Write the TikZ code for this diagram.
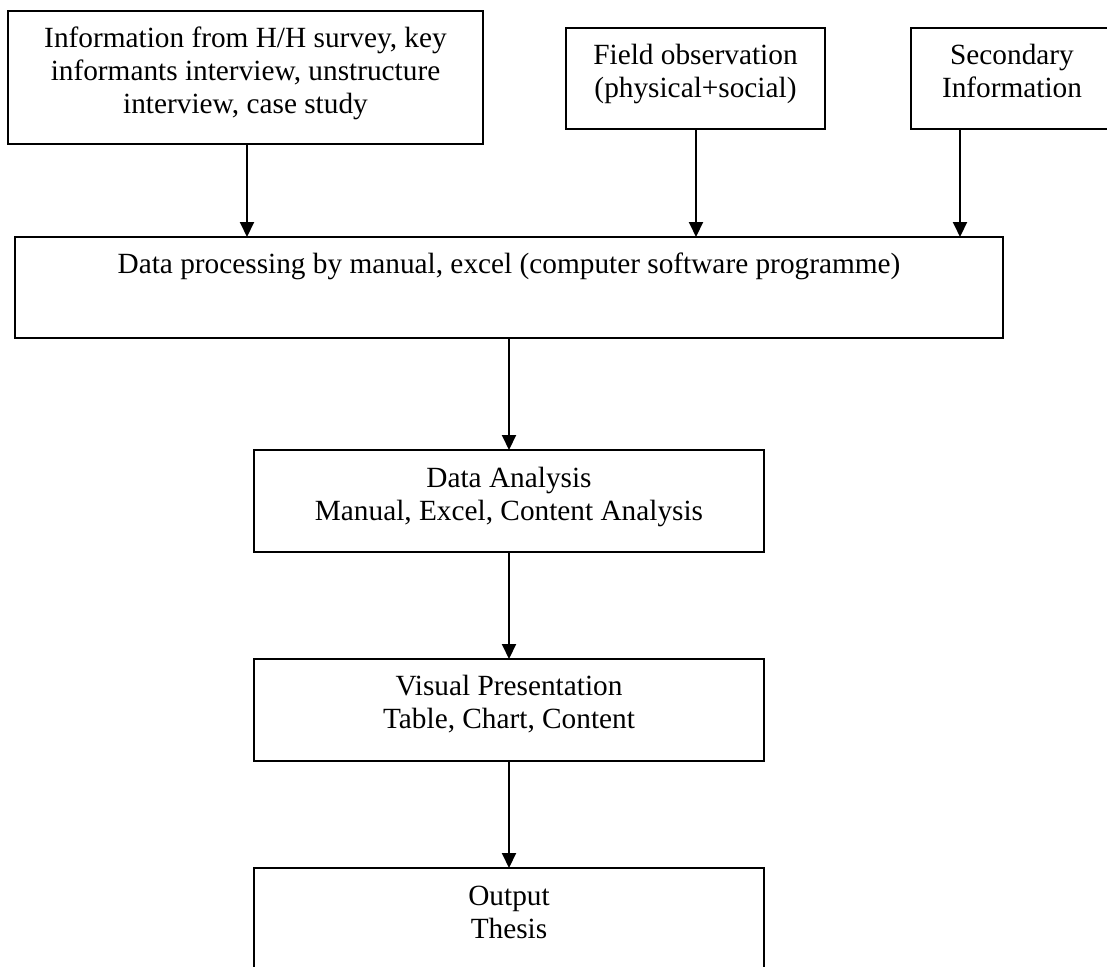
\documentclass[tikz,border=0pt]{standalone}
\usepackage{fontspec}
\setmainfont{Liberation Serif}
\usetikzlibrary{arrows.meta}
\begin{document}
\begin{tikzpicture}[x=1pt,y=-1pt,
  box/.style={draw, line width=2pt, rectangle, inner sep=0pt, outer sep=0pt, anchor=north west},
  txt/.style={anchor=north, inner sep=0pt, align=center, font=\fontsize{29.3}{33}\selectfont},
  arr/.style={line width=2pt, -{Triangle[length=15pt,width=14pt]}}]
\useasboundingbox (0,0) rectangle (1107,966);
\clip (0,0) rectangle (1107,966);
% boxes
\node[box, minimum width=475pt, minimum height=133pt] (b1) at (8,11) {};
\node[box, minimum width=259pt, minimum height=101pt] (b2) at (566,28) {};
\node[box, minimum width=210pt, minimum height=101pt] (b3) at (911,28) {};
\node[box, minimum width=988pt, minimum height=101pt] (b5) at (15,237) {};
\node[box, minimum width=510pt, minimum height=102pt] (b6) at (254,450) {};
\node[box, minimum width=510pt, minimum height=102pt] (b7) at (254,659) {};
\node[box, minimum width=510pt, minimum height=150pt] (b8) at (254,868) {};
% texts
\node[txt] (t1) at (245.5,23.9) {\strut Information from H/H survey, key\\informants interview, unstructure\\interview, case study};
\node[txt] (t2) at (695.5,40.9) {\strut Field observation\\(physical+social)};
\node[txt] (t3) at (1012,40.9) {\strut Secondary\\Information};
\node[txt] (t5) at (509,249.9) {\strut Data processing by manual, excel (computer software programme)};
\node[txt] (t6) at (509,463.9) {\strut Data Analysis\\Manual, Excel, Content Analysis};
\node[txt] (t7) at (509,671.9) {\strut Visual Presentation\\Table, Chart, Content};
\node[txt] (t8) at (509,881.9) {\strut Output\\Thesis};
% arrows
\draw[arr] ([xshift=1.5pt]b1.south) -- ([xshift=1.5pt]b1.south |- b5.north);
\draw[arr] ([xshift=0.5pt]b2.south) -- ([xshift=0.5pt]b2.south |- b5.north);
\draw[arr] ([xshift=49pt]b3.south west) -- ([xshift=49pt]b3.south west |- b5.north);
\draw[arr] (b5.south) -- (b6.north);
\draw[arr] (b6.south) -- (b7.north);
\draw[arr] (b7.south) -- (b8.north);
\end{tikzpicture}
\end{document}
